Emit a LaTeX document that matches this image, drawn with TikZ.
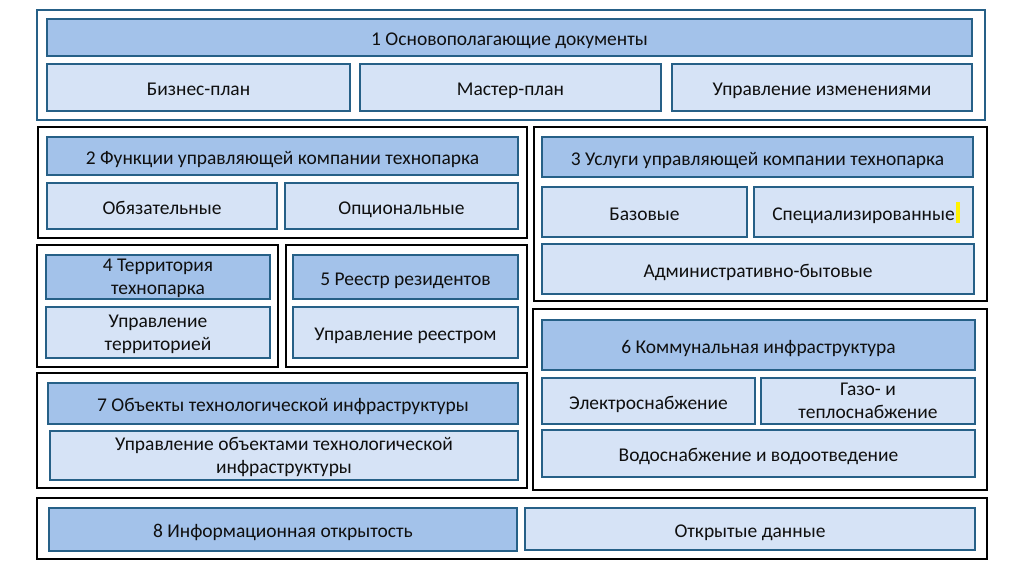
\documentclass[tikz,border=0pt]{standalone}
\usepackage{fontspec}
\setmainfont{Carlito}
\definecolor{hdr}{RGB}{163,194,234}
\definecolor{sub}{RGB}{214,227,246}
\definecolor{bord}{RGB}{38,96,135}
\definecolor{txt}{RGB}{15,15,15}
\tikzset{
  place/.style n args={4}{minimum width={(#3-#1)*0.75pt}, minimum height={(#4-#2)*0.75pt}, at={({(#1+#3)/2},{(#2+#4)/2})}},
  grp/.style={draw=black, line width=1.6pt, inner sep=0pt, outer sep=0pt, fill=white},
  grpblue/.style={draw=bord, line width=1.6pt, inner sep=0pt, outer sep=0pt, fill=white},
  tbox/.style={draw=bord, line width=1.5pt, inner sep=0pt, outer sep=0pt, align=center, text=txt,
    font=\fontsize{14.6}{17.3}\selectfont, execute at begin node=\strut, execute at end node=\strut,
    text depth=0pt},
  hbox/.style={tbox, fill=hdr},
  sbox/.style={tbox, fill=sub},
}
\begin{document}
\begin{tikzpicture}[x=0.75pt,y=-0.75pt]
\useasboundingbox[fill=white] (0,0) rectangle (1024,574);
% groups
\node[grpblue, place={37}{10}{985}{120}] (g1) {};
\node[grp, place={38}{127}{527}{238}] (g2) {};
\node[grp, place={534}{127}{987}{301}] (g3) {};
\node[grp, place={37}{245}{278}{367}] (g4) {};
\node[grp, place={286}{245}{527}{367}] (g5) {};
\node[grp, place={533}{309}{987}{490}] (g6) {};
\node[grp, place={37}{373}{527}{488}] (g7) {};
\node[grp, place={37}{498}{987}{559}] (g8) {};
% group 1
\node[hbox, place={47}{19}{972}{56}] (h1) {1 Основополагающие документы};
\node[sbox, place={47}{64}{350}{111}] (s11) {Бизнес-план};
\node[sbox, place={360}{64}{661}{111}] (s12) {Мастер-план};
\node[sbox, place={672}{64}{972}{111}] (s13) {Управление изменениями};
% group 2
\node[hbox, place={47}{137}{518}{175}] (h2) {2 Функции управляющей компании технопарка};
\node[sbox, place={47}{183}{277}{229}] (s21) {Обязательные};
\node[sbox, place={285}{183}{518}{229}] (s22) {Опциональные};
% group 3
\node[hbox, place={542}{137}{973}{177}] (h3) {3 Услуги управляющей компании технопарка};
\node[sbox, place={542}{187}{747}{237}] (s31) {Базовые};
\node[sbox, place={754}{187}{973}{237}] (s32) {Специализированные};
\fill[yellow] (956,202) rectangle (960,223);
\node[sbox, place={542}{244}{974}{294}] (s33) {Административно-бытовые};
% group 4
\node[hbox, place={46}{255}{270}{299}] (h4) {4 Территория\\технопарка};
\node[sbox, place={46}{307}{270}{358}] (s41) {Управление\\территорией};
% group 5
\node[hbox, place={293}{255}{518}{299}] (h5) {5 Реестр резидентов};
\node[sbox, place={293}{307}{518}{358}] (s51) {Управление реестром};
% group 6
\node[hbox, place={542}{320}{975}{370}] (h6) {6 Коммунальная инфраструктура};
\node[sbox, place={542}{378}{755}{424}] (s61) {Электроснабжение};
\node[sbox, place={761}{378}{975}{424}] (s62) {Газо- и\\теплоснабжение};
\node[sbox, place={542}{430}{975}{477}] (s63) {Водоснабжение и водоотведение};
% group 7
\node[hbox, place={48}{383}{518}{424}] (h7) {7 Объекты технологической инфраструктуры};
\node[sbox, place={50}{431}{518}{480}] (s71) {Управление объектами технологической\\инфраструктуры};
% group 8
\node[hbox, place={49}{508}{517}{551}] (h8) {8 Информационная открытость};
\node[sbox, place={525}{508}{975}{550}] (s81) {Открытые данные};
\end{tikzpicture}
\end{document}
